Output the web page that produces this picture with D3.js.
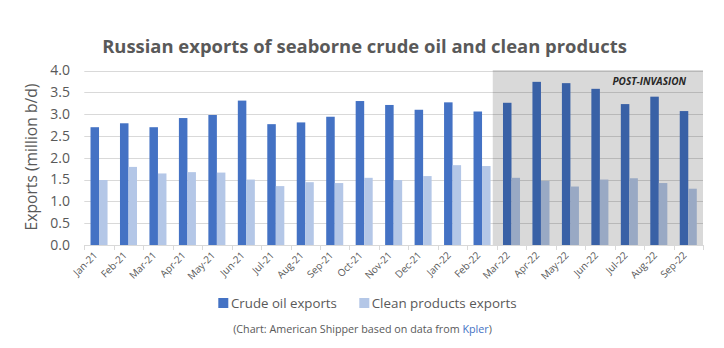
<!DOCTYPE html>
<html><head><meta charset="utf-8">
<script src="https://cdn.jsdelivr.net/npm/d3@7"></script>
<style>
html,body{margin:0;padding:0;background:#fff;}
svg{display:block;font-family:"Open Sans",sans-serif;}
</style></head>
<body><svg id="c" width="724" height="348"></svg>
<script>
const months = ["Jan-21","Feb-21","Mar-21","Apr-21","May-21","Jun-21","Jul-21","Aug-21","Sep-21","Oct-21","Nov-21","Dec-21","Jan-22","Feb-22","Mar-22","Apr-22","May-22","Jun-22","Jul-22","Aug-22","Sep-22"];
const crudeOil = [2.70,2.79,2.70,2.91,2.98,3.31,2.77,2.81,2.94,3.30,3.21,3.10,3.27,3.06,3.26,3.74,3.71,3.58,3.23,3.40,3.07];
const cleanProducts = [1.49,1.79,1.64,1.67,1.66,1.50,1.35,1.44,1.42,1.54,1.49,1.58,1.83,1.81,1.54,1.47,1.34,1.50,1.53,1.42,1.29];
const seriesNames = ["Crude oil exports","Clean products exports"];
const yTicks = [0,0.5,1,1.5,2,2.5,3,3.5,4];
const postInvasionStart = "Mar-22";
const titleText = "Russian exports of seaborne crude oil and clean products";
const yTitle = "Exports (million b/d)";
const shadeLabel = "POST-INVASION";

const colors = ["#4472c4","#b4c7e7"];
const gray = "#595959";
const svg = d3.select("#c");

const x = d3.scaleBand().domain(months).range([84.3,703]).paddingInner(0).paddingOuter(0);
const xs = d3.scaleBand().domain(seriesNames).range([0,x.bandwidth()]).paddingInner(0).paddingOuter(0.73);
const y = d3.scaleLinear().domain([0,4]).range([245,70.5]);

function fit(sel, w){
  const n = sel.node(); const fs = parseFloat(sel.attr("font-size"));
  const len = n.getComputedTextLength();
  sel.attr("font-size", fs*w/len);
}

// title
const t = svg.append("text").attr("x",364.5).attr("y",53).attr("text-anchor","middle")
  .attr("font-size",17).attr("font-weight","bold").attr("fill",gray).text(titleText);
fit(t,525);

// gridlines
svg.append("g").selectAll("line").data(yTicks.filter(d=>d>0)).join("line")
  .attr("x1",x.range()[0]).attr("x2",x.range()[1])
  .attr("y1",d=>Math.round(y(d))+0.5).attr("y2",d=>Math.round(y(d))+0.5)
  .attr("stroke","#d9d9d9").attr("stroke-width",1);

// y tick labels
svg.append("g").selectAll("text").data(yTicks).join("text")
  .attr("x",70).attr("y",d=>y(d)).attr("dy","0.35em").attr("text-anchor","end")
  .attr("font-size",14).attr("fill",gray).text(d=>d.toFixed(1));

// y title
const yt = svg.append("text").attr("transform","translate(37,157) rotate(-90)")
  .attr("text-anchor","middle").attr("font-size",15).attr("fill",gray).text(yTitle);
fit(yt,147);

// bars
const data = months.map((m,i)=>({m, vals:[crudeOil[i],cleanProducts[i]]}));
const g = svg.append("g");
g.selectAll("g").data(data).join("g").attr("transform",d=>`translate(${x(d.m)},0)`)
  .selectAll("rect").data(d=>d.vals.map((v,k)=>({v,k}))).join("rect")
  .attr("x",d=>xs(seriesNames[d.k])).attr("width",xs.bandwidth())
  .attr("y",d=>y(d.v)).attr("height",d=>y(0)-y(d.v)).attr("fill",d=>colors[d.k]);

// axis baseline and ticks
svg.append("line").attr("x1",x.range()[0]).attr("x2",x.range()[1]).attr("y1",245.5).attr("y2",245.5)
  .attr("stroke","#d9d9d9");
svg.append("g").selectAll("line").data(months.concat(["_end"])).join("line")
  .attr("x1",(d,i)=>Math.round(x.range()[0]+i*x.step())+0.5).attr("x2",(d,i)=>Math.round(x.range()[0]+i*x.step())+0.5)
  .attr("y1",245).attr("y2",250).attr("stroke","#d9d9d9");

// shaded post-invasion
const sx = x(postInvasionStart)-4;
svg.append("rect").attr("x",sx).attr("y",y(4)-0.5).attr("width",x.range()[1]-sx).attr("height",y(0)-y(4)+0.5)
  .attr("fill","#000").attr("fill-opacity",0.15);
svg.append("text").attr("x",686).attr("y",85).attr("text-anchor","end").attr("font-size",10)
  .attr("font-weight","bold").attr("font-style","italic").attr("fill","#262626").text(shadeLabel);

// x labels
svg.append("g").selectAll("text").data(months).join("text")
  .attr("transform",d=>`translate(${x(d)+x.bandwidth()/2-1},256) rotate(-45)`)
  .attr("text-anchor","end").attr("font-size",10).attr("fill",gray).text(d=>d);

// legend
const leg = [{x:218.3,tx:231,w:106},{x:359.3,tx:371.7,w:145}];
seriesNames.forEach((s,i)=>{
  svg.append("rect").attr("x",leg[i].x).attr("y",298).attr("width",10).attr("height",10).attr("fill",colors[i]);
  const lt = svg.append("text").attr("x",leg[i].tx).attr("y",303).attr("dy","0.35em")
    .attr("font-size",14).attr("fill",gray).text(s);
  fit(lt,leg[i].w);
});

// source
const src = svg.append("text").attr("x",362.5).attr("y",333).attr("text-anchor","middle")
  .attr("font-size",11).attr("fill",gray);
src.append("tspan").text("(Chart: American Shipper based on data from ");
src.append("tspan").attr("fill","#4472c4").text("Kpler");
src.append("tspan").text(")");
fit(src,259);
</script></body></html>
